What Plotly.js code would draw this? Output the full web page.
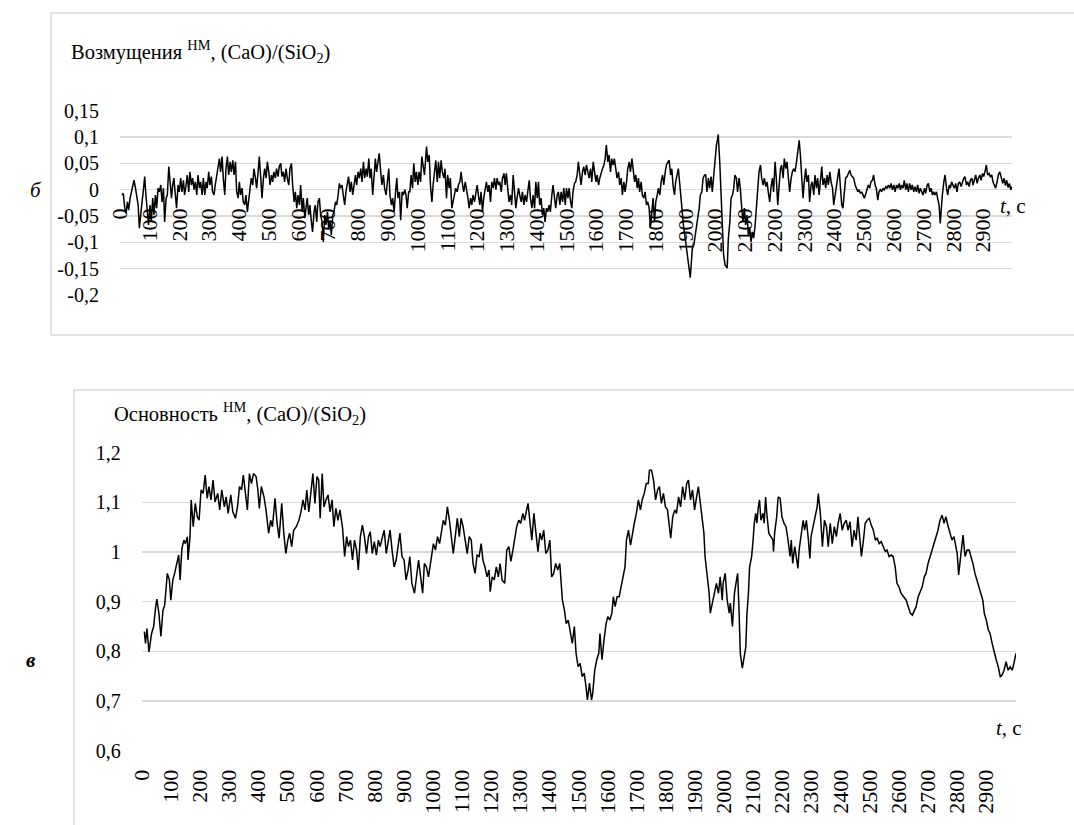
<!DOCTYPE html>
<html>
<head>
<meta charset="utf-8">
<script src="https://cdn.plot.ly/plotly-3.0.1.min.js"></script>
<style>html,body{margin:0;padding:0;background:#fff;}#chart{width:1074px;height:825px;}</style>
</head>
<body>
<div id="chart"></div>
<script>
// ---- Panel б: disturbances ----
const topT = [7,11,16,20,25,29,34,38,43,47,52,56,61,65,69,74,78,83,87,92,96,101,105,110,114,119,123,128,132,137,141,146,150,155,159,164,168,173,177,181,186,190,195,199,204,208,213,217,222,226,231,235,240,244,249,253,258,262,267,271,276,280,285,289,293,298,302,307,311,316,320,325,329,334,338,343,347,352,356,361,365,370,374,379,383,388,392,397,401,405,410,414,419,423,428,432,437,441,446,450,455,459,464,468,473,477,482,486,491,495,500,504,509,513,517,522,526,531,535,540,544,549,553,558,562,567,571,576,580,585,589,594,598,603,607,612,616,621,625,629,634,638,643,647,652,656,661,665,670,674,679,683,688,692,697,701,706,710,715,719,724,728,733,737,741,746,750,755,759,764,768,773,777,782,786,791,795,800,804,809,813,818,822,827,831,836,840,844,849,853,858,862,867,871,876,880,885,889,894,898,903,907,912,916,921,925,930,934,939,943,948,952,957,961,965,970,
974,978,983,987,992,996,1001,1005,1010,1014,1018,1023,1027,1030,1034,1039,1043,1048,1052,1057,1061,1066,1070,1074,1079,1083,1088,1092,1097,1101,1106,1110,1115,1119,1124,1128,1133,1137,1142,1146,1151,1155,1160,1164,1169,1173,1178,1182,1186,1191,1195,1200,1204,1209,1213,1218,1222,1227,1231,1236,1240,1245,1249,1254,1258,1263,1267,1272,1276,1281,1285,1290,1294,1298,1303,1307,1312,1316,1321,1325,1330,1334,1339,1343,1348,1352,1357,1361,1366,1370,1375,1379,1384,1388,1393,1397,1402,1406,1410,1415,1419,1424,1428,1433,1437,1442,1446,1451,1455,1460,1464,1469,1473,1478,1482,1487,1491,1496,1500,1505,1509,1514,1518,1522,1527,1531,1536,1540,1545,1549,1554,1558,1563,1567,1572,1576,1581,1585,1590,1594,1599,1603,1608,1612,1617,1621,1626,1630,1634,1639,1643,1648,1652,1657,1661,1666,1670,1675,1679,1684,1688,1693,1697,1702,1706,1711,1715,1720,1724,1729,1733,1738,1742,1746,1751,1755,1760,1764,1769,1773,1778,1782,1787,1791,1796,1800,1805,1809,1814,1818,1823,1827,1832,1836,1841,1845,1850,1854,1858,1863,1867,1872,1876,1881,1885,1890,1894,1899,1903,1908,1912,1916,1919,1923,1928,1932,1937,1941,1946,1950,1955,1959,1964,
1968,1972,1977,1981,1986,1990,1995,1999,2004,2008,2010,2015,2019,2024,2028,2033,2037,2040,2044,2049,2053,2058,2062,2066,2071,2075,2080,2084,2089,2093,2098,2102,2107,2111,2116,2120,2125,2129,2134,2138,2143,2147,2152,2156,2161,2165,2170,2174,2178,2183,2187,2192,2196,2201,2205,2210,2214,2219,2223,2228,2232,2237,2241,2246,2250,2255,2259,2264,2268,2273,2277,2282,2286,2290,2295,2299,2304,2308,2313,2317,2322,2326,2331,2335,2340,2344,2349,2353,2358,2362,2367,2371,2376,2380,2385,2389,2394,2398,2402,2407,2411,2416,2420,2425,2429,2434,2438,2443,2447,2452,2456,2461,2465,2470,2474,2479,2483,2488,2492,2497,2501,2506,2510,2514,2519,2523,2528,2532,2537,2541,2546,2550,2555,2559,2564,2568,2573,2577,2582,2586,2591,2595,2600,2604,2609,2613,2618,2622,2626,2631,2635,2640,2644,2649,2653,2658,2662,2667,2671,2676,2680,2685,2689,2694,2698,2703,2707,2712,2716,2721,2725,2730,2734,2738,2743,2747,2752,2756,2759,2763,2768,2772,2777,2781,2786,2790,2794,2799,2803,2808,2812,2817,2821,2826,2830,2835,2839,2844,2848,2853,2857,2862,2866,2871,2875,2880,2884,2889,2893,2898,2902,2906,2911,2915,2920,2924,2929,2933,2938,2942,2947,2951,2956,2961,2966,2970,2975,2979,2984,2988,2993,2997];
const topV = [-0.010,-0.007,-0.035,-0.045,-0.023,-0.039,-0.016,-0.004,0.009,0.018,0.003,-0.010,-0.029,-0.073,-0.042,-0.023,-0.004,0.025,-0.010,-0.042,-0.067,-0.029,-0.061,-0.016,-0.048,-0.010,-0.035,0.003,-0.004,0.009,-0.023,0.003,-0.061,-0.016,-0.010,0.044,0.015,-0.016,0.009,0.022,-0.010,-0.035,0.009,-0.004,0.022,-0.004,0.018,-0.010,0.009,0.028,-0.004,0.034,0.009,0.022,0.000,0.015,-0.010,0.028,0.003,0.015,-0.010,0.022,-0.010,0.015,0.003,0.034,0.009,0.025,-0.004,-0.010,0.009,0.028,0.047,0.059,0.034,0.063,0.022,-0.010,0.040,0.063,0.028,0.053,0.034,0.056,0.028,0.053,-0.004,-0.016,0.015,-0.010,0.003,-0.023,-0.029,-0.010,-0.042,-0.023,-0.004,0.022,0.009,0.040,0.022,0.003,0.034,0.063,0.022,-0.016,0.022,0.040,0.022,0.053,0.034,0.009,0.028,0.015,0.034,0.022,0.040,0.025,0.044,0.050,0.025,0.034,0.015,0.040,0.022,0.009,0.040,0.050,0.009,-0.023,-0.004,-0.035,-0.010,-0.029,0.009,-0.042,-0.016,-0.054,-0.035,-0.016,-0.048,-0.029,-0.061,-0.080,-0.042,-0.029,-0.061,-0.023,-0.016,-0.048,-0.061,-0.099,-0.048,-0.067,-0.042,-0.073,-0.061,-0.086,-0.048,-0.042,-0.023,-0.029,-0.010,0.012,0.003,0.009,-0.010,-0.029,-0.004,0.015,0.025,-0.004,0.015,-0.010,0.009,0.028,0.009,0.034,0.022,0.040,0.015,0.053,0.022,0.040,0.025,0.059,0.022,0.040,-0.010,0.028,0.059,0.034,0.053,0.069,0.034,0.009,0.028,0.003,-0.010,0.009,0.040,-0.010,-0.029,-0.016,-0.042,-0.010,0.022,-0.016,-0.004,-0.058,-0.004,-0.010,0.000,-0.010,-0.035,-0.004,
-0.004,0.028,0.003,0.050,0.015,0.034,0.009,0.034,0.015,0.063,0.047,0.028,0.059,0.082,0.053,0.066,0.009,-0.023,0.009,0.034,0.056,0.015,0.053,0.022,0.056,0.034,0.022,0.040,-0.016,0.028,0.003,0.022,-0.035,-0.023,-0.004,0.003,-0.004,0.009,0.015,0.034,0.009,-0.004,0.015,0.003,-0.016,-0.035,-0.016,-0.029,-0.010,-0.023,-0.004,0.009,-0.010,-0.029,-0.004,-0.042,-0.016,0.003,0.015,-0.004,0.009,-0.023,0.015,0.003,0.022,0.000,0.022,0.009,0.015,-0.004,0.022,0.031,0.009,0.031,-0.004,-0.023,-0.010,-0.029,0.028,-0.010,-0.035,-0.016,0.003,-0.010,-0.023,-0.004,-0.029,-0.010,-0.023,-0.004,0.018,-0.016,-0.035,-0.010,-0.035,0.015,-0.016,0.015,-0.029,-0.016,-0.048,-0.035,-0.061,-0.035,-0.042,-0.029,-0.042,-0.010,0.009,-0.016,-0.035,-0.010,-0.004,-0.029,-0.004,-0.023,0.003,-0.029,0.003,-0.016,0.003,-0.023,-0.035,-0.004,0.012,0.015,0.028,0.053,0.028,0.009,0.034,0.044,0.028,0.047,0.034,0.022,0.040,0.015,0.053,0.034,0.015,0.028,0.009,0.022,0.034,0.040,0.047,0.059,0.085,0.053,0.066,0.034,0.059,0.047,0.059,0.040,0.022,0.034,0.009,0.022,-0.010,0.015,-0.004,0.015,0.040,0.053,0.034,0.059,0.034,0.015,0.028,0.003,0.022,-0.004,0.015,-0.010,-0.016,-0.004,-0.029,-0.023,-0.035,-0.073,-0.042,-0.016,-0.061,-0.023,-0.010,0.003,-0.010,0.015,0.028,0.009,0.034,0.047,0.053,0.056,0.028,0.040,0.009,-0.010,0.015,0.028,0.040,0.009,-0.016,-0.054,-0.073,-0.092,-0.111,-0.130,-0.149,-0.167,-0.143,-0.111,-0.105,-0.086,-0.061,-0.054,-0.035,-0.010,-0.004,0.022,0.028,
0.028,-0.004,0.022,0.003,0.025,-0.004,0.034,0.066,0.085,0.097,0.105,0.053,-0.004,-0.061,-0.124,-0.143,-0.146,-0.149,-0.092,-0.061,-0.016,-0.010,0.003,0.028,0.022,-0.004,0.022,0.003,-0.035,-0.061,-0.035,-0.067,-0.048,-0.086,-0.073,-0.099,-0.080,-0.092,-0.067,-0.029,0.015,0.034,0.047,0.022,0.009,0.022,0.006,0.015,-0.004,-0.023,0.003,0.022,-0.004,0.053,0.022,-0.029,0.003,0.040,0.047,0.022,0.059,0.040,0.053,0.028,-0.004,0.022,0.034,0.040,0.034,0.053,0.072,0.094,0.066,0.028,-0.016,0.015,0.040,0.015,0.028,-0.023,0.009,0.015,-0.010,0.028,0.003,0.022,-0.010,0.015,0.044,0.009,0.022,0.003,0.028,0.009,0.034,0.015,0.003,-0.029,-0.010,0.015,0.022,0.040,0.015,-0.029,-0.035,-0.004,0.022,0.025,0.031,0.037,0.028,0.025,0.022,0.009,0.003,-0.004,0.000,-0.007,-0.004,-0.010,-0.016,-0.007,0.003,0.009,0.003,0.015,0.018,0.028,0.009,0.003,-0.020,-0.004,0.000,-0.004,0.003,0.000,0.006,0.003,0.009,0.003,0.012,0.000,0.009,-0.004,0.009,0.003,0.012,0.000,0.009,0.003,0.018,0.000,0.012,-0.004,0.012,0.000,0.009,-0.004,0.006,-0.004,0.009,-0.007,0.003,-0.004,-0.010,0.003,-0.007,0.009,0.012,-0.004,0.003,-0.010,-0.004,-0.010,-0.004,-0.016,-0.029,-0.064,-0.029,-0.010,0.015,0.028,0.003,-0.010,0.009,0.003,0.015,0.009,0.003,0.012,-0.004,0.012,0.015,0.006,0.015,0.022,0.025,0.009,0.015,0.006,0.018,0.022,0.009,0.018,0.028,0.012,0.022,0.028,0.018,0.031,0.025,0.034,0.047,0.028,0.031,0.025,0.028,0.015,0.009,0.003,0.015,0.028,0.034,0.020,0.012,0.022,0.008,0.018,0.004,0.012,0.000,0.006];

// ---- Panel в: basicity ----
const botT = [9,13,18,25,34,41,48,52,59,66,73,79,88,95,100,107,113,122,127,132,138,145,150,157,159,166,170,177,184,191,197,204,211,218,225,231,238,245,252,261,268,275,284,290,297,306,313,322,329,336,343,349,356,363,370,377,384,393,399,404,411,420,427,436,443,449,458,465,472,481,488,495,502,508,515,522,531,540,547,554,561,567,574,581,588,595,602,608,613,620,626,633,640,647,654,660,667,674,681,690,697,704,710,717,724,731,738,744,751,758,765,772,779,785,792,799,806,813,819,826,833,840,847,853,860,867,874,881,887,894,901,908,915,921,928,937,944,951,958,965,971,978,985,992,
995,1002,1009,1016,1023,1029,1036,1043,1050,1057,1063,1070,1077,1084,1091,1097,1104,1111,1118,1125,1132,1138,1145,1152,1159,1166,1172,1179,1186,1193,1197,1204,1211,1218,1225,1231,1238,1247,1254,1261,1268,1275,1281,1288,1295,1302,1309,1315,1322,1327,1334,1340,1347,1354,1361,1368,1374,1381,1388,1395,1402,1408,1415,1422,1429,1436,1440,1445,1452,1458,1465,1472,1479,1486,1492,1499,1506,1513,1520,1526,1531,1538,1545,1549,1556,1563,1570,1574,1581,1588,1595,1601,1608,1615,1620,1626,1633,1640,1647,1654,1660,1665,1672,1679,1685,1692,1699,1706,1713,1719,1726,1733,1740,1744,1751,1758,1765,1772,1778,1785,1792,1799,1806,1812,1817,1824,1831,1837,1844,1851,1858,1865,1872,1878,1885,1892,1899,1906,1912,1919,1926,1931,1935,1942,1949,1953,1960,1967,1974,1981,1987,1994,
1997,2004,2011,2018,2022,2029,2036,2043,2047,2052,2056,2063,2070,2075,2079,2084,2088,2095,2100,2104,2109,2113,2118,2122,2127,2134,2138,2143,2147,2154,2161,2168,2170,2174,2181,2186,2193,2199,2206,2213,2220,2227,2231,2236,2243,2247,2254,2258,2265,2272,2277,2283,2290,2295,2299,2306,2313,2320,2324,2331,2338,2345,2352,2358,2365,2372,2379,2386,2392,2399,2406,2413,2420,2426,2433,2440,2447,2454,2460,2467,2472,2479,2485,2492,2499,2506,2513,2520,2526,2533,2540,2547,2554,2560,2567,2574,2581,2588,2594,2601,2608,2617,2626,2633,2640,2647,2653,2660,2667,2674,2681,2688,2694,2701,2708,2715,2722,2728,2735,2742,2749,2756,2762,2769,2776,2783,2790,2796,2801,2806,2810,2815,2821,2828,2835,2842,2849,2855,2862,2869,2876,2883,2889,2894,2901,2908,2914,2921,2928,2935,2942,2949,2955,2962,2969,2976,2983,2990,2996,3003];
const botV = [0.840,0.816,0.846,0.799,0.836,0.850,0.890,0.905,0.877,0.830,0.883,0.893,0.957,0.944,0.903,0.944,0.957,0.977,0.994,0.944,1.007,1.024,1.017,1.031,0.984,1.031,1.105,1.051,1.098,1.071,1.064,1.125,1.118,1.155,1.108,1.132,1.105,1.145,1.101,1.118,1.085,1.125,1.091,1.111,1.078,1.115,1.081,1.068,1.091,1.132,1.125,1.155,1.125,1.085,1.158,1.138,1.158,1.152,1.125,1.088,1.132,1.111,1.085,1.038,1.064,1.051,1.108,1.058,1.028,1.098,1.038,0.997,1.024,1.038,1.011,1.044,1.051,1.064,1.081,1.105,1.085,1.125,1.081,1.118,1.158,1.098,1.152,1.145,1.068,1.158,1.091,1.105,1.115,1.081,1.105,1.051,1.088,1.064,1.085,1.048,0.991,1.031,1.011,1.024,0.984,1.024,1.004,0.964,1.031,1.054,1.031,0.997,1.031,1.041,0.997,1.021,0.994,1.024,1.011,1.028,1.044,0.997,1.024,1.044,1.004,0.970,0.984,1.014,1.038,0.991,0.984,0.944,0.964,0.991,0.937,0.917,0.957,0.984,0.950,0.917,0.977,0.970,0.950,0.977,
0.991,1.017,1.004,1.031,1.017,1.038,1.064,1.054,1.091,1.064,1.038,0.997,1.031,1.068,1.031,1.068,1.051,1.024,0.997,1.031,1.024,0.977,0.957,0.994,0.991,1.017,0.984,0.970,0.950,0.964,0.920,0.950,0.944,0.970,0.950,0.977,0.944,0.937,1.004,1.011,0.981,1.004,1.031,1.051,1.064,1.058,1.078,1.064,1.085,1.098,1.058,1.024,1.078,1.031,1.001,1.038,1.024,1.044,0.997,1.004,1.024,0.950,0.957,0.977,0.964,0.977,0.944,0.903,0.883,0.856,0.863,0.843,0.816,0.850,0.796,0.769,0.776,0.749,0.756,0.729,0.702,0.736,0.702,0.715,0.762,0.783,0.796,0.836,0.783,0.823,0.856,0.870,0.863,0.877,0.910,0.890,0.910,0.910,0.930,0.957,0.970,1.024,1.044,1.014,1.038,1.058,1.078,1.105,1.085,1.105,1.118,1.138,1.138,1.165,1.165,1.145,1.105,1.125,1.132,1.098,1.118,1.091,1.085,1.051,1.028,1.071,1.085,1.078,1.111,1.091,1.132,1.105,1.138,1.145,1.105,1.125,1.085,1.111,1.132,1.098,1.064,1.038,0.991,0.957,0.917,0.877,0.897,0.910,0.937,0.917,0.950,0.903,
0.937,0.957,0.903,0.877,0.897,0.850,0.917,0.944,0.957,0.877,0.796,0.766,0.789,0.809,0.877,0.917,0.970,0.991,1.024,1.058,1.078,1.058,1.091,1.105,1.064,1.078,1.058,1.111,1.078,1.038,1.031,1.024,1.001,1.038,1.071,1.111,1.108,1.071,1.058,1.051,1.024,0.991,1.024,0.977,1.011,0.991,0.967,1.004,1.038,1.064,1.044,1.064,1.024,0.987,1.031,1.051,1.064,1.091,1.118,1.078,1.011,1.064,1.051,1.011,1.058,1.017,1.051,1.031,1.058,1.078,1.044,1.058,1.064,1.044,1.061,1.011,1.044,1.024,1.071,1.024,0.991,1.024,1.058,1.064,1.068,1.054,1.044,1.024,1.028,1.017,1.021,1.011,1.001,1.004,0.991,0.994,0.991,0.970,0.937,0.930,0.917,0.910,0.903,0.890,0.877,0.873,0.880,0.890,0.910,0.920,0.930,0.950,0.957,0.977,0.991,1.004,1.021,1.028,1.044,1.064,1.074,1.058,1.071,1.054,1.038,1.024,1.031,1.011,0.997,0.954,0.977,1.004,1.034,0.991,1.004,1.004,0.991,0.977,0.957,0.944,0.930,0.917,0.903,0.877,0.863,0.843,0.836,0.816,0.796,0.783,0.769,0.749,0.752,0.762,0.779,0.762,0.769,0.762,0.776,0.796];

// ---- tick labels ----
const xTickVals = [0,100,200,300,400,500,600,700,800,900,1000,1100,1200,1300,1400,1500,1600,1700,1800,1900,2000,2100,2200,2300,2400,2500,2600,2700,2800,2900];
const xTickText = ["0","100","200","300","400","500","600","700","800","900","1000","1100","1200","1300","1400","1500","1600","1700","1800","1900","2000","2100","2200","2300","2400","2500","2600","2700","2800","2900"];
const topTickVals = [-0.2,-0.15,-0.1,-0.05,0,0.05,0.1,0.15];
const topTickText = ["-0,2","-0,15","-0,1","-0,05","0","0,05","0,1","0,15"];
const botTickVals = [0.6,0.7,0.8,0.9,1.0,1.1,1.2];
const botTickText = ["0,6","0,7","0,8","0,9","1","1,1","1,2"];

const W = 1074, H = 825;
const px = v => v / W;
const py = v => 1 - v / H;

const FONT = '"Liberation Serif", "Times New Roman", serif';
const GRID = '#d9d9d9';

const traces = [
  {x: topT, y: topV, type: 'scatter', mode: 'lines', line: {color: '#000', width: 1.5}, xaxis: 'x', yaxis: 'y', showlegend: false},
  {x: botT, y: botV, type: 'scatter', mode: 'lines', line: {color: '#000', width: 1.5}, xaxis: 'x2', yaxis: 'y2', showlegend: false}
];

const xCommon = {
  tickmode: 'array', tickvals: xTickVals, ticktext: xTickText, tickangle: -90,
  showgrid: false, zeroline: false, showline: false,
  ticks: 'outside', ticklen: 9, tickcolor: 'rgba(0,0,0,0)',
  tickfont: {family: FONT, size: 22, color: '#000'}
};
const yCommon = {
  tickmode: 'array', showgrid: true, gridcolor: GRID, gridwidth: 1.5,
  zeroline: false, showline: false,
  ticks: 'outside', ticklen: 16, tickcolor: 'rgba(0,0,0,0)',
  tickfont: {family: FONT, size: 20, color: '#000'}
};

const layout = {
  width: W, height: H,
  margin: {l: 0, r: 0, t: 0, b: 0},
  paper_bgcolor: '#fff', plot_bgcolor: 'rgba(0,0,0,0)',
  font: {family: FONT, color: '#000'},
  showlegend: false,
  xaxis: Object.assign({}, xCommon, {domain: [px(120), px(1012)], range: [0, 2997], anchor: 'free', position: py(189.7)}),
  yaxis: Object.assign({}, yCommon, {domain: [py(295.3), py(110.5)], range: [-0.2005, 0.1505], tickvals: topTickVals, ticktext: topTickText, anchor: 'x'}),
  xaxis2: Object.assign({}, xCommon, {domain: [px(141.7), px(1016)], range: [0, 3003], anchor: 'y2'}),
  yaxis2: Object.assign({}, yCommon, {domain: [py(750.9), py(452.5)], range: [0.5995, 1.2005], tickvals: botTickVals, ticktext: botTickText, anchor: 'x2'}),
  shapes: [
    {type: 'rect', xref: 'paper', yref: 'paper', x0: px(51), x1: 1.05, y0: py(335), y1: py(13), line: {color: GRID, width: 1.5}, fillcolor: 'rgba(0,0,0,0)', layer: 'below'},
    {type: 'rect', xref: 'paper', yref: 'paper', x0: px(74), x1: 1.05, y0: -0.05, y1: py(390), line: {color: GRID, width: 1.5}, fillcolor: 'rgba(0,0,0,0)', layer: 'below'}
  ],
  annotations: [
    {xref: 'paper', yref: 'paper', x: px(69), y: py(52), xanchor: 'left', yanchor: 'middle', showarrow: false,
     text: 'Возмущения <sup>НМ</sup>, (CaO)/(SiO<sub>2</sub>)', font: {family: FONT, size: 20.5, color: '#000'}},
    {xref: 'paper', yref: 'paper', x: px(112), y: py(413), xanchor: 'left', yanchor: 'middle', showarrow: false,
     text: 'Основность <sup>НМ</sup>, (CaO)/(SiO<sub>2</sub>)', font: {family: FONT, size: 20.5, color: '#000'}},
    {xref: 'paper', yref: 'paper', x: px(998), y: py(206), xanchor: 'left', yanchor: 'middle', showarrow: false,
     text: '<i>t</i>, с', font: {family: FONT, size: 21, color: '#000'}},
    {xref: 'paper', yref: 'paper', x: px(994), y: py(728), xanchor: 'left', yanchor: 'middle', showarrow: false,
     text: '<i>t</i>, с', font: {family: FONT, size: 21, color: '#000'}},
    {xref: 'paper', yref: 'paper', x: px(36), y: py(190), xanchor: 'center', yanchor: 'middle', showarrow: false,
     text: '<i>б</i>', font: {family: FONT, size: 21, color: '#000'}},
    {xref: 'paper', yref: 'paper', x: px(31), y: py(660), xanchor: 'center', yanchor: 'middle', showarrow: false,
     text: '<b><i>в</i></b>', font: {family: FONT, size: 21, color: '#000'}}
  ]
};

Plotly.newPlot('chart', traces, layout, {staticPlot: true, displayModeBar: false});
</script>
</body>
</html>
